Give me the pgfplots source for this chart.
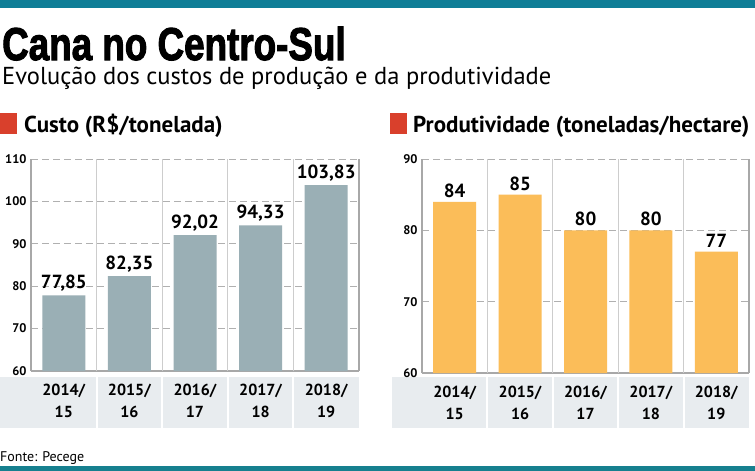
\documentclass[border=0pt]{standalone}
\usepackage{fontspec}
\setmainfont{PT Sans}
\newfontfamily\titlefont[FakeBold=2.5]{Liberation Sans}
\usepackage{graphicx}
\usepackage{pgfplots}
\pgfplotsset{compat=1.18}
\definecolor{topc}{HTML}{0F7E97}
\definecolor{botc}{HTML}{16808F}
\definecolor{barA}{HTML}{9AAFB5}
\definecolor{barB}{HTML}{FBBD59}
\definecolor{redsq}{HTML}{D9402C}
\definecolor{bandc}{HTML}{E8ECEF}
\definecolor{gridc}{HTML}{B0B0B0}
\definecolor{sepc}{HTML}{CDCDCD}
\definecolor{axc}{HTML}{A8A8A8}
\pgfplotsset{
  mybar/.style={
    scale only axis,
    ybar, bar width=43pt,
    xmin=-0.5, xmax=4.5,
    xtick={0,1,2,3,4},
    xticklabels={2014/\\15,2015/\\16,2016/\\17,2017/\\18,2018/\\19},
    xticklabel style={align=center, text width=60pt, anchor=center, yshift=-30pt,
      font=\bfseries\fontsize{16}{22}\selectfont},
    major tick length=0pt,
    axis x line*=bottom, axis y line*=box,
    axis line style={axc, line width=1.2pt},
    ymajorgrids,
    y grid style={gridc, line width=1pt, dash pattern=on 7pt off 4pt},
    extra x ticks={0.5,1.5,2.5,3.5},
    extra x tick labels={},
    extra x tick style={grid=major, major grid style={sepc, line width=1.3pt, solid}},
    yticklabel style={font=\bfseries\fontsize{12.5}{12.5}\selectfont, xshift=-1pt},
    /pgf/number format/assume math mode=true,
    every node near coord/.append style={font=\bfseries\fontsize{19}{19}\selectfont,
      anchor=south, inner sep=0pt, yshift=4pt, black},
    clip=false,
  }
}
\begin{document}
\begin{tikzpicture}
\useasboundingbox (0pt,0pt) rectangle (755pt,-471pt);
\fill[white] (0pt,0pt) rectangle (755pt,-471pt);
\fill[topc] (0pt,0pt) rectangle (755pt,-8pt);
\fill[botc] (0pt,-466pt) rectangle (755pt,-471pt);
\node[anchor=base west, inner sep=0pt] at (2pt,-60pt)
  {\scalebox{0.8}[1]{\titlefont\bfseries\fontsize{46}{46}\selectfont Cana no Centro-Sul}};
\node[anchor=base west, inner sep=0pt] at (2pt,-84pt)
  {\fontsize{24.5}{24.5}\selectfont Evolução dos custos de produção e da produtividade};
\fill[redsq] (0pt,-113pt) rectangle (17pt,-134pt);
\fill[redsq] (390pt,-113pt) rectangle (407pt,-134pt);
\node[anchor=base west, inner sep=0pt] at (24pt,-132pt)
  {\bfseries\fontsize{23}{23}\selectfont Custo (R\$/tonelada)};
\node[anchor=base west, inner sep=0pt] at (413pt,-132pt)
  {\bfseries\fontsize{23}{23}\selectfont Produtividade (toneladas/hectare)};
% category label bands
\foreach \a/\b in {0/96,98/161,163/227,229/292,294/359,392/486,488/552,554/617,619/683,685/749}
  \fill[bandc] (\a pt,-377pt) rectangle (\b pt,-428pt);
\node[anchor=base west, inner sep=0pt] at (0pt,-461pt)
  {\fontsize{14}{14}\selectfont Fonte: Pecege};

\begin{axis}[mybar, at={(31pt,-159pt)}, anchor=north west,
  width=328pt, height=212pt,
  ymin=60, ymax=110, ytick={60,70,80,90,100,110},
  nodes near coords={\pgfmathprintnumber[use comma,fixed,fixed zerofill,precision=2]{\pgfplotspointmeta}}]
\addplot[draw=none, fill=barA] coordinates {(0,77.85) (1,82.35) (2,92.02) (3,94.33) (4,103.83)};
\end{axis}

\begin{axis}[mybar, at={(422pt,-159pt)}, anchor=north west,
  width=327pt, height=214pt,
  ymin=60, ymax=90, ytick={60,70,80,90},
  nodes near coords={\pgfmathprintnumber[fixed,precision=0]{\pgfplotspointmeta}}]
\addplot[draw=none, fill=barB] coordinates {(0,84) (1,85) (2,80) (3,80) (4,77)};
\end{axis}
\end{tikzpicture}
\end{document}
